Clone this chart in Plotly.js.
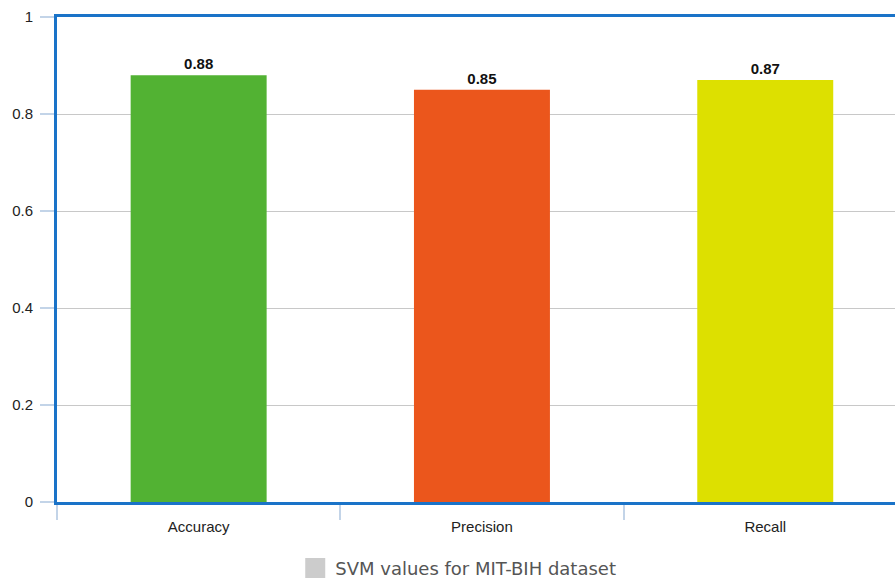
<!DOCTYPE html>
<html>
<head>
<meta charset="utf-8">
<script src="https://cdn.plot.ly/plotly-3.0.1.min.js"></script>
<style>
  html, body { margin: 0; padding: 0; background: #fff; overflow: hidden; }
  #chart { width: 895px; height: 580px; }
</style>
</head>
<body>
<div id="chart"></div>
<script>
// SVM scores on the MIT-BIH dataset
const metrics = ["Accuracy", "Precision", "Recall"];
const scores = [0.88, 0.85, 0.87];
const barColors = ["#52b233", "#eb561c", "#dde000"];
const seriesName = "SVM values for MIT-BIH dataset";
const yTicks = [0, 0.2, 0.4, 0.6, 0.8, 1];
const yTickLabels = ["0", "0.2", "0.4", "0.6", "0.8", "1"];

const axisBlue = "#1a73c8";
const tickBlue = "#c3d4e8";

const bars = {
  type: "bar",
  x: metrics,
  y: scores,
  width: 0.48,
  marker: { color: barColors },
  text: scores.map(v => v.toFixed(2)),
  textposition: "outside",
  textfont: { family: "Liberation Sans, Arial, sans-serif", size: 15, color: "#111", weight: "bold" },
  cliponaxis: false,
  showlegend: false,
  hoverinfo: "x+y"
};

// legend entry drawn as a plain grey swatch
const legendEntry = {
  type: "scatter",
  mode: "markers",
  x: [null],
  y: [null],
  name: seriesName,
  marker: { symbol: "square", size: 16, color: "#cccccc", line: { color: "#cccccc", width: 4 } },
  showlegend: true,
  hoverinfo: "skip"
};

const layout = {
  width: 895,
  height: 580,
  margin: { l: 57, r: 0, t: 17, b: 78 },
  paper_bgcolor: "#ffffff",
  plot_bgcolor: "#ffffff",
  font: { family: "Liberation Sans, Arial, sans-serif", size: 15, color: "#222" },
  xaxis: {
    type: "category",
    range: [-0.5, 2.458],
    automargin: false,
    showline: true,
    linecolor: axisBlue,
    linewidth: 3,
    mirror: true,
    showgrid: false,
    zeroline: false,
    tickson: "boundaries",
    ticks: "outside",
    ticklen: 15,
    tickcolor: tickBlue,
    tickwidth: 2,
    ticklabelstandoff: 9,
    tickfont: { size: 15, color: "#222" },
    fixedrange: true
  },
  yaxis: {
    range: [0, 1],
    automargin: false,
    tickvals: yTicks,
    ticktext: yTickLabels,
    showline: true,
    linecolor: axisBlue,
    linewidth: 3,
    mirror: false,
    showgrid: true,
    gridcolor: "#c8c8c8",
    gridwidth: 1,
    zeroline: false,
    ticks: "outside",
    ticklen: 14,
    tickcolor: tickBlue,
    tickwidth: 2,
    ticklabelstandoff: 4,
    tickfont: { size: 15, color: "#222" },
    fixedrange: true
  },
  showlegend: true,
  legend: {
    orientation: "h",
    x: 0.512,
    xanchor: "center",
    xref: "container",
    y: 0.02,
    yref: "container",
    yanchor: "middle",
    font: { family: "DejaVu Sans, Verdana, sans-serif", size: 18, color: "#555" },
    itemwidth: 30
  }
};

Plotly.newPlot("chart", [bars, legendEntry], layout, { displayModeBar: false, staticPlot: true });
</script>
</body>
</html>
